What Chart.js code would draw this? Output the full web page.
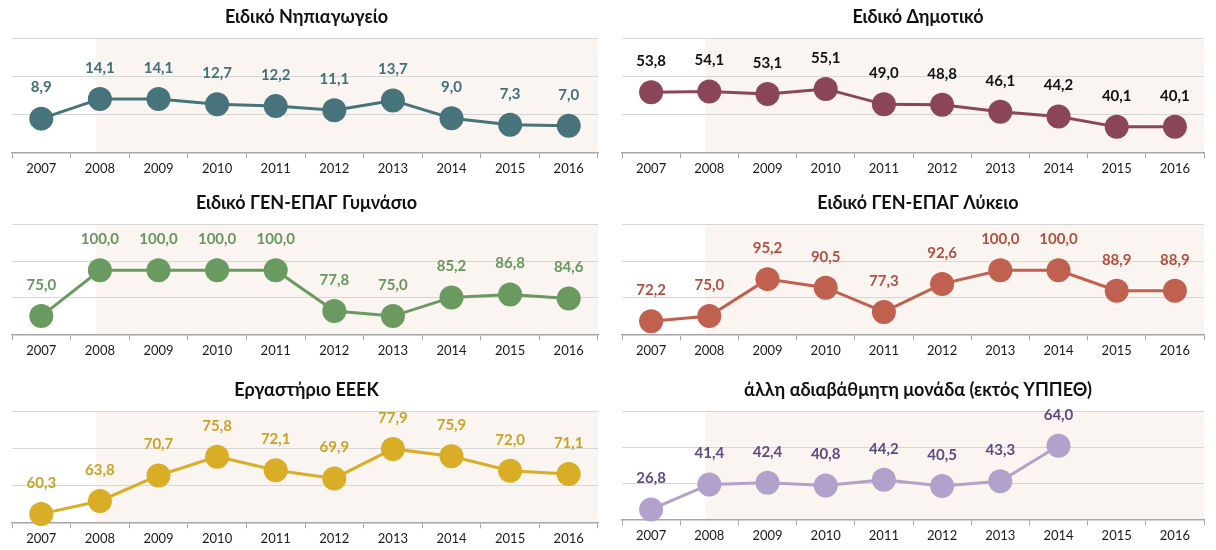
<!DOCTYPE html>
<html>
<head>
<meta charset="utf-8">
<script src="https://cdn.jsdelivr.net/npm/chart.js@4.4.1/dist/chart.umd.min.js"></script>
<style>
  body { margin: 0; background: #fff; width: 1216px; height: 550px; position: relative; overflow: hidden; }
  .box { position: absolute; }
</style>
</head>
<body>
<div class="box" id="box0"><canvas id="c0"></canvas></div>
<div class="box" id="box1"><canvas id="c1"></canvas></div>
<div class="box" id="box2"><canvas id="c2"></canvas></div>
<div class="box" id="box3"><canvas id="c3"></canvas></div>
<div class="box" id="box4"><canvas id="c4"></canvas></div>
<div class="box" id="box5"><canvas id="c5"></canvas></div>
<script>
// data
const years = ['2007', '2008', '2009', '2010', '2011', '2012', '2013', '2014', '2015', '2016'];
const titles = [
    'Ειδικό Νηπιαγωγείο',
    'Ειδικό Δημοτικό',
    'Ειδικό ΓΕΝ-ΕΠΑΓ Γυμνάσιο',
    'Ειδικό ΓΕΝ-ΕΠΑΓ Λύκειο',
    'Εργαστήριο ΕΕΕΚ',
    'άλλη αδιαβάθμητη μονάδα (εκτός ΥΠΠΕΘ)'
];
const nipiagogeio = [8.9, 14.1, 14.1, 12.7, 12.2, 11.1, 13.7, 9.0, 7.3, 7.0];
const dimotiko = [53.8, 54.1, 53.1, 55.1, 49.0, 48.8, 46.1, 44.2, 40.1, 40.1];
const gymnasio = [75.0, 100.0, 100.0, 100.0, 100.0, 77.8, 75.0, 85.2, 86.8, 84.6];
const lykeio = [72.2, 75.0, 95.2, 90.5, 77.3, 92.6, 100.0, 100.0, 88.9, 88.9];
const eeek = [60.3, 63.8, 70.7, 75.8, 72.1, 69.9, 77.9, 75.9, 72.0, 71.1];
const alli = [26.8, 41.4, 42.4, 40.8, 44.2, 40.5, 43.3, 64.0, null, null];

const FONT = "Lato, 'Noto Sans', sans-serif";

// shaded band from 2008 onwards
const shadePlugin = {
    id: 'shade',
    beforeDraw(chart) {
        const { ctx, chartArea: a, scales: { x } } = chart;
        const start = x.getPixelForValue(1) - 4;
        ctx.save();
        ctx.fillStyle = '#faf5f1';
        ctx.fillRect(start, a.top, a.right - start, a.bottom - a.top);
        ctx.restore();
    }
};

// value labels above the points
const valueLabels = {
    id: 'valueLabels',
    afterDatasetsDraw(chart, args, opts) {
        const ctx = chart.ctx;
        const values = chart.data.datasets[0].data;
        ctx.save();
        ctx.font = 'bold 15px ' + FONT;
        ctx.fillStyle = opts.color;
        ctx.textAlign = 'center';
        ctx.textBaseline = 'middle';
        chart.getDatasetMeta(0).data.forEach((pt, i) => {
            if (values[i] == null) return;
            ctx.fillText(values[i].toFixed(1).replace('.', ','), pt.x, pt.y - 31);
        });
        ctx.restore();
    }
};

function makeChart(n, box, values, yMin, yMax, color, labelColor) {
    const el = document.getElementById('box' + n);
    el.style.left = box.left + 'px';
    el.style.top = box.top + 'px';
    el.style.width = box.width + 'px';
    el.style.height = box.height + 'px';

    new Chart(document.getElementById('c' + n), {
        type: 'line',
        data: {
            labels: years,
            datasets: [{
                data: values,
                borderColor: color,
                backgroundColor: color,
                borderWidth: 3,
                pointRadius: 12,
                pointBorderWidth: 0,
                pointBackgroundColor: color,
                tension: 0,
                clip: false,
                spanGaps: false
            }]
        },
        options: {
            responsive: true,
            maintainAspectRatio: false,
            animation: false,
            events: [],
            layout: { padding: { left: box.padL, right: box.padR, top: 0, bottom: box.padB } },
            scales: {
                x: {
                    offset: true,
                    grid: { offset: true, drawOnChartArea: false, drawTicks: true, tickLength: 6, color: '#a6a6a6' },
                    border: { display: true, color: '#a6a6a6', width: 1.5 },
                    ticks: { color: '#1a1a1a', font: { family: FONT, size: 13 }, padding: 3, maxRotation: 0, autoSkip: false }
                },
                y: {
                    min: yMin,
                    max: yMax,
                    ticks: { display: false, stepSize: (yMax - yMin) / 3 },
                    grid: { drawTicks: false, color: '#d6d6d6', lineWidth: 1 },
                    border: { display: false }
                }
            },
            plugins: {
                legend: { display: false },
                tooltip: { enabled: false },
                title: {
                    display: true,
                    text: titles[n],
                    color: '#111',
                    font: { family: FONT, size: 18, weight: 'bold' },
                    padding: { top: 6, bottom: 11 }
                },
                valueLabels: { color: labelColor }
            }
        },
        plugins: [shadePlugin, valueLabels]
    });
}

const L = { left: 0, width: 610, padL: 7, padR: 4 };
const R = { left: 610, width: 606, padL: 10, padR: 0 };

makeChart(0, { ...L, top: 0, height: 180, padB: 0 }, nipiagogeio, 0, 30, '#47737b', '#41707a');
makeChart(1, { ...R, top: 0, height: 180, padB: 0 }, dimotiko, 30, 75, '#8a4658', '#111111');
makeChart(2, { ...L, top: 186, height: 176, padB: 0 }, gymnasio, 65, 125, '#6a9a5f', '#67975c');
makeChart(3, { ...R, top: 186, height: 176, padB: 0 }, lykeio, 65, 125, '#c0604f', '#b0503f');
makeChart(4, { ...L, top: 373, height: 177, padB: 0 }, eeek, 58, 88, '#d9ad26', '#c9a227');
makeChart(5, { ...R, top: 373, height: 174, padB: 0 }, alli, 21, 84, '#b2a1cb', '#5d4a80');
</script>
</body>
</html>
